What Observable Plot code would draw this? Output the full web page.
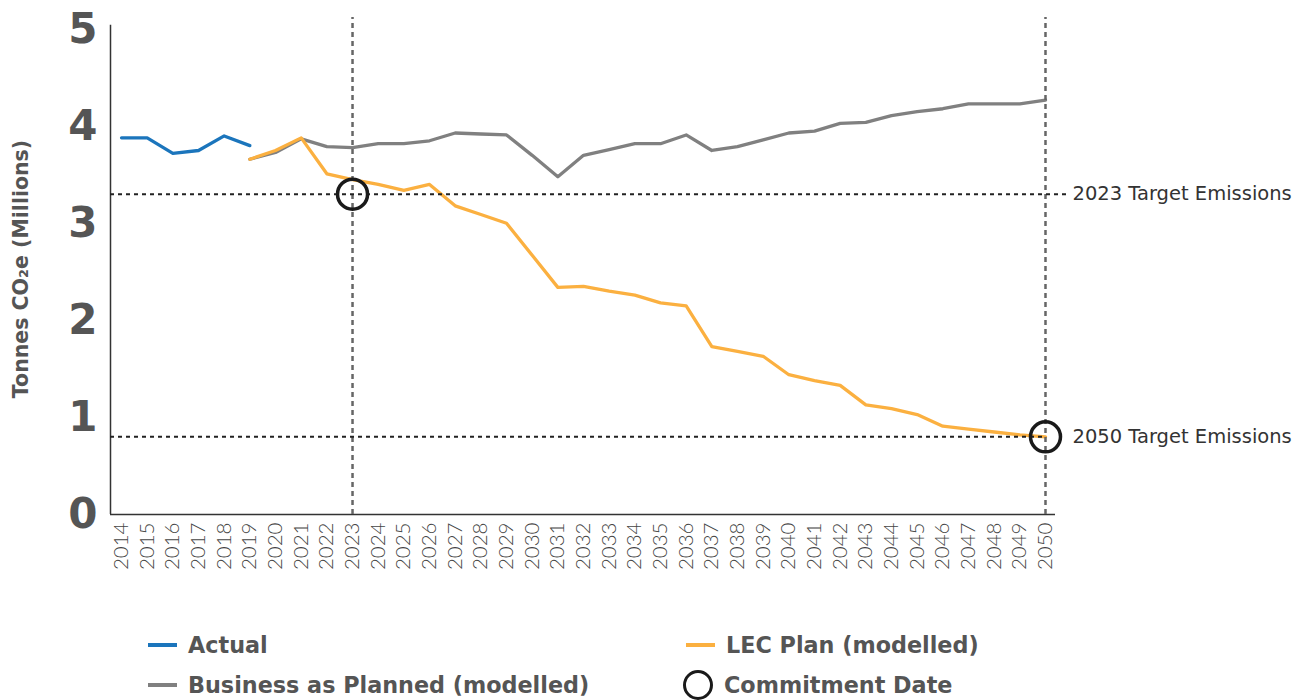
<!DOCTYPE html>
<html><head><meta charset="utf-8">
<script src="https://cdn.jsdelivr.net/npm/d3@7"></script>
<script src="https://cdn.jsdelivr.net/npm/@observablehq/plot@0.6"></script>
<style>
body{margin:0;background:#fff;}
#wrap{position:relative;width:1312px;height:700px;overflow:hidden;background:#fff;}
#chart{position:absolute;left:0;top:0;}
.leg{position:absolute;display:flex;align-items:center;font-family:"DejaVu Sans",sans-serif;font-weight:700;font-size:22.3px;color:#555;white-space:nowrap;}
.sw{display:inline-block;width:29px;height:3.5px;margin-right:11px;}
.circ{display:inline-block;width:24px;height:24px;border:3.5px solid #1a1a1a;border-radius:50%;margin-right:11px;box-sizing:content-box;}
</style></head><body>
<div id="wrap"><div id="chart"></div><div id="legend"></div></div>
<script>
// ---- data ----
const years = [2014,2015,2016,2017,2018,2019,2020,2021,2022,2023,2024,2025,2026,2027,2028,2029,2030,2031,2032,2033,2034,2035,2036,2037,2038,2039,2040,2041,2042,2043,2044,2045,2046,2047,2048,2049,2050];
const actualYears = [2014,2015,2016,2017,2018,2019];
const actualValues = [3.88,3.88,3.72,3.75,3.90,3.80];
const modelYears = [2019,2020,2021,2022,2023,2024,2025,2026,2027,2028,2029,2030,2031,2032,2033,2034,2035,2036,2037,2038,2039,2040,2041,2042,2043,2044,2045,2046,2047,2048,2049,2050];
const bapValues = [3.66,3.73,3.87,3.79,3.78,3.82,3.82,3.85,3.93,3.92,3.91,3.70,3.48,3.70,3.76,3.82,3.82,3.91,3.75,3.79,3.86,3.93,3.95,4.03,4.04,4.11,4.15,4.18,4.23,4.23,4.23,4.27];
const lecValues = [3.66,3.75,3.88,3.51,3.45,3.40,3.34,3.40,3.18,3.09,3.00,2.67,2.34,2.35,2.30,2.26,2.18,2.15,1.73,1.68,1.63,1.44,1.38,1.33,1.13,1.09,1.03,0.91,0.88,0.85,0.82,0.80];
const commitYears = [2023, 2050];
const targetValues = [3.30, 0.80];
const targetLabels = ["2023 Target Emissions", "2050 Target Emissions"];
const yTicks = [0,1,2,3,4,5];
const yTitle = "Tonnes CO₂e (Millions)";
const seriesNames = ["Actual", "Business as Planned (modelled)", "LEC Plan (modelled)", "Commitment Date"];
const seriesColors = ["#1b75bc", "#808080", "#fbb040", "#1a1a1a"];

// ---- tables ----
const actual = actualYears.map((y,i)=>({year:y, value:actualValues[i]}));
const bap = modelYears.map((y,i)=>({year:y, value:bapValues[i]}));
const lec = modelYears.map((y,i)=>({year:y, value:lecValues[i]}));
const targets = commitYears.map((y,i)=>({year:y, value:targetValues[i], label:targetLabels[i]}));
const lastYear = years[years.length - 1];

const xDomain = [2013.57, 2050.39];
const yDomain = [0, 5.12];

const chart = Plot.plot({
  width: 1312, height: 600,
  marginLeft: 110, marginRight: 257, marginTop: 17, marginBottom: 86,
  style: {fontFamily: "'DejaVu Sans', sans-serif", background: "transparent", overflow: "visible"},
  x: {domain: xDomain},
  y: {domain: yDomain},
  marks: [
    Plot.axisX({ticks: years, tickFormat: d => String(d), tickRotate: -90, tickSize: 0, tickPadding: 8, fontSize: 20.5, fontWeight: 300, fill: "#444", fontFamily: "Lato, sans-serif", label: null}),
    Plot.axisY({ticks: yTicks, tickFormat: d => String(d), tickSize: 0, tickPadding: 13, fontSize: 42, fontWeight: 700, fill: "#555", fontFamily: "'DejaVu Sans', sans-serif", label: null}),
    Plot.text([yTitle], {frameAnchor: "left", textAnchor: "middle", dx: -89, dy: 3, rotate: -90, text: d => d, fontSize: 20.5, fontWeight: 700, fill: "#555", fontFamily: "'DejaVu Sans', sans-serif"}),
    Plot.ruleY([0], {stroke: "#333", strokeWidth: 1.5}),
    Plot.ruleX([xDomain[0]], {y1: 0, y2: 5.04, stroke: "#333", strokeWidth: 1.5}),
    Plot.line(actual, {x: "year", y: "value", stroke: seriesColors[0], strokeWidth: 3.3}),
    Plot.line(bap, {x: "year", y: "value", stroke: seriesColors[1], strokeWidth: 3.3}),
    Plot.line(lec, {x: "year", y: "value", stroke: seriesColors[2], strokeWidth: 3.3}),
    Plot.ruleX(commitYears, {y1: 0, y2: yDomain[1], stroke: "#666", strokeWidth: 2.5, strokeDasharray: "5,4"}),
    Plot.ruleY(targets, {y: "value", x1: xDomain[0], x2: (d,i) => i === 0 ? 2050.9 : 2050, stroke: "#222", strokeWidth: 2, strokeDasharray: "4,4"}),
    Plot.dot(targets, {x: "year", y: "value", r: 15, stroke: seriesColors[3], strokeWidth: 3.5, fill: "none"}),
    Plot.text(targets, {x: () => lastYear, y: "value", text: "label", dx: 27, textAnchor: "start", fontSize: 19.5, fill: "#333", fontFamily: "'DejaVu Sans', sans-serif"})
  ]
});
document.getElementById("chart").appendChild(chart);

// ---- legend ----
const legend = document.getElementById("legend");
const legPos = [[148, 645], [148, 685], [686, 645], [683, 685]];
seriesNames.forEach((name, i) => {
  const div = document.createElement("div");
  div.className = "leg";
  div.style.left = legPos[i][0] + "px";
  div.style.top = (legPos[i][1] - 16) + "px";
  div.style.height = "32px";
  const sw = document.createElement("span");
  if (i === 3) { sw.className = "circ"; }
  else { sw.className = "sw"; sw.style.background = seriesColors[i]; }
  div.appendChild(sw);
  const t = document.createElement("span");
  t.textContent = name;
  div.appendChild(t);
  legend.appendChild(div);
});
</script>
</body></html>
